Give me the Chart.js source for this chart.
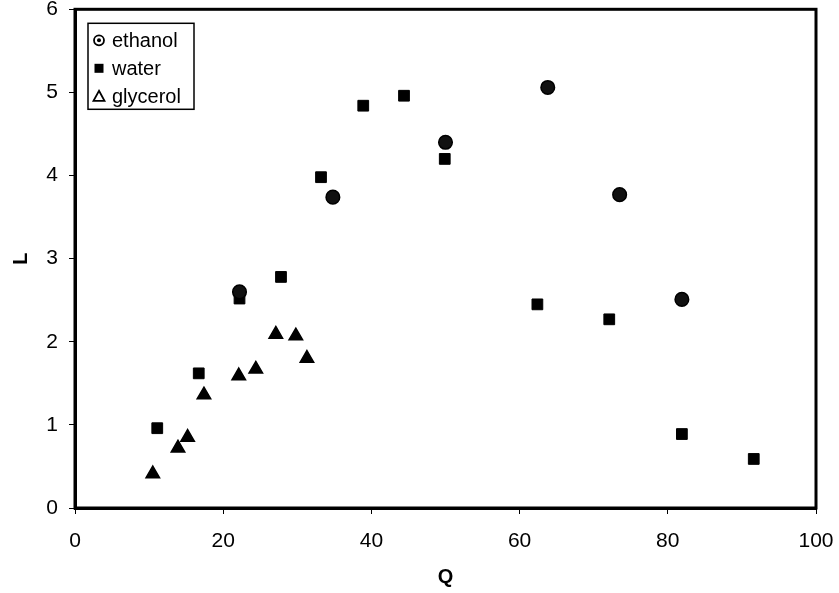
<!DOCTYPE html>
<html>
<head>
<meta charset="utf-8">
<script src="https://cdn.jsdelivr.net/npm/chart.js@4/dist/chart.umd.min.js"></script>
<style>
html,body{margin:0;padding:0;background:#fff;}
#wrap{width:839px;height:593px;position:relative;}
</style>
</head>
<body>
<div id="wrap"><canvas id="c" width="839" height="593"></canvas></div>
<script>
const ethanolQ = [22.2, 34.8, 50.0, 63.8, 73.5, 81.9];
const ethanolL = [2.60, 3.74, 4.40, 5.06, 3.77, 2.51];
const waterQ = [11.1, 16.7, 22.2, 27.8, 33.2, 38.9, 44.4, 49.9, 62.4, 72.1, 81.9, 91.6];
const waterL = [0.96, 1.62, 2.52, 2.78, 3.98, 4.84, 4.96, 4.20, 2.45, 2.27, 0.89, 0.59];
const glycerolQ = [10.5, 13.9, 15.2, 17.4, 22.1, 24.4, 27.1, 29.8, 31.3];
const glycerolL = [0.41, 0.72, 0.85, 1.36, 1.59, 1.67, 2.09, 2.07, 1.80];
const seriesNames = ['ethanol', 'water', 'glycerol'];
const xTicks = [0, 20, 40, 60, 80, 100];
const yTicks = [0, 1, 2, 3, 4, 5, 6];

const pts = (xs, ys) => xs.map((x, i) => ({x: x, y: ys[i]}));
const FONT = 'Liberation Sans, Arial, sans-serif';

const framePlugin = {
  id: 'frame',
  afterDatasetsDraw(chart) {
    const {ctx, chartArea: a} = chart;
    ctx.save();
    ctx.strokeStyle = '#000';
    ctx.lineWidth = 3;
    ctx.strokeRect(a.left, a.top, a.right - a.left, a.bottom - a.top);
    ctx.restore();
  }
};

const legendPlugin = {
  id: 'boxLegend',
  afterDraw(chart) {
    const {ctx, chartArea: a} = chart;
    const x0 = a.left + 13, y0 = a.top + 14, w = 106, h = 86;
    ctx.save();
    ctx.fillStyle = '#fff';
    ctx.fillRect(x0, y0, w, h);
    ctx.strokeStyle = '#000';
    ctx.lineWidth = 1.5;
    ctx.strokeRect(x0, y0, w, h);
    ctx.font = '20px ' + FONT;
    ctx.textBaseline = 'middle';
    ctx.fillStyle = '#000';
    chart.data.datasets.forEach((ds, i) => {
      const cy = y0 + 17 + i * 28;
      const mx = x0 + 11;
      ctx.lineWidth = 1.8;
      ctx.strokeStyle = '#000';
      ctx.fillStyle = '#000';
      if (i === 0) {
        ctx.beginPath(); ctx.arc(mx, cy, 5, 0, Math.PI * 2); ctx.stroke();
        ctx.beginPath(); ctx.arc(mx, cy, 2, 0, Math.PI * 2); ctx.fill();
      } else if (i === 1) {
        ctx.fillRect(mx - 4.5, cy - 4.5, 9, 9);
      } else {
        ctx.beginPath();
        ctx.moveTo(mx, cy - 5.5); ctx.lineTo(mx + 5.5, cy + 4.5); ctx.lineTo(mx - 5.5, cy + 4.5);
        ctx.closePath(); ctx.stroke();
      }
      ctx.fillStyle = '#000';
      ctx.fillText(ds.label, mx + 13, cy + 1);
    });
    ctx.restore();
  }
};

new Chart(document.getElementById('c'), {
  type: 'scatter',
  data: {
    datasets: [
      {label: seriesNames[0], data: pts(ethanolQ, ethanolL), pointStyle: 'circle', pointRadius: 6.8,
       backgroundColor: '#111', borderColor: '#000', borderWidth: 1.5},
      {label: seriesNames[1], data: pts(waterQ, waterL), pointStyle: 'rect', pointRadius: 7.6,
       backgroundColor: '#000', borderColor: '#000', borderWidth: 1},
      {label: seriesNames[2], data: pts(glycerolQ, glycerolL), pointStyle: 'triangle', pointRadius: 7.8,
       backgroundColor: '#000', borderColor: '#000', borderWidth: 1.5}
    ]
  },
  options: {
    responsive: false,
    animation: false,
    events: [],
    layout: {padding: {top: 9, right: 23, left: 0, bottom: 0}},
    plugins: {legend: {display: false}, tooltip: {enabled: false}},
    scales: {
      x: {
        type: 'linear', min: 0, max: 100,
        afterBuildTicks: s => { s.ticks = xTicks.map(v => ({value: v})); },
        afterFit: s => { s.height = 85; s.paddingLeft = 0; s.paddingRight = 0; },
        grid: {display: true, drawOnChartArea: false, drawTicks: true, tickLength: 6, color: '#000', lineWidth: 1},
        border: {display: true, color: '#000', width: 3},
        ticks: {color: '#000', font: {family: FONT, size: 21}, padding: 15, maxRotation: 0},
        title: {display: true, text: 'Q', color: '#000', font: {family: FONT, size: 20, weight: 'bold'}, padding: {top: 11}}
      },
      y: {
        type: 'linear', min: 0, max: 6,
        afterBuildTicks: s => { s.ticks = yTicks.map(v => ({value: v})); },
        afterFit: s => { s.width = 75; s.paddingTop = 0; s.paddingBottom = 0; },
        grid: {display: true, drawOnChartArea: false, drawTicks: true, tickLength: 6, color: '#000', lineWidth: 1},
        border: {display: true, color: '#000', width: 3},
        ticks: {color: '#000', font: {family: FONT, size: 21}, padding: 11},
        title: {display: true, text: 'L', color: '#000', font: {family: FONT, size: 20, weight: 'bold'}, padding: {top: 9}}
      }
    }
  },
  plugins: [framePlugin, legendPlugin]
});
</script>
</body>
</html>
